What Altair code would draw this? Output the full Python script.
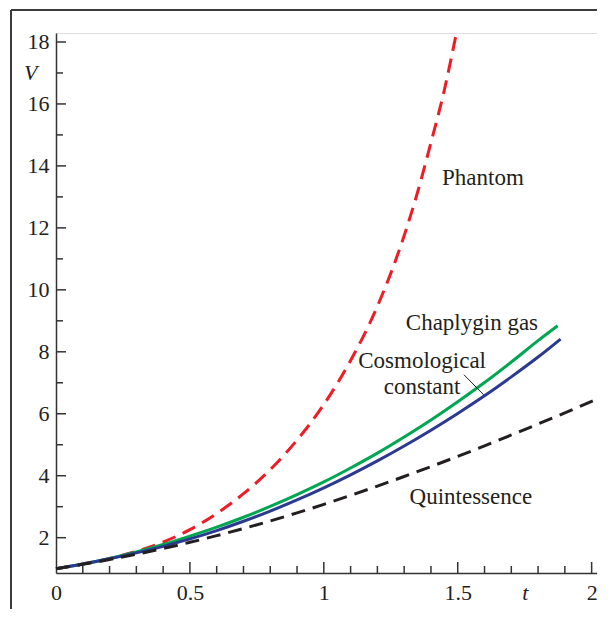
import altair as alt
import pandas as pd

# ---- data ----
t_cosmo = [0.0, 0.1, 0.2, 0.3, 0.4, 0.5, 0.6, 0.7, 0.8, 0.9, 1.0, 1.1, 1.2, 1.3, 1.4, 1.5, 1.6, 1.7, 1.8, 1.884]
v_cosmo = [1.00, 1.15, 1.32, 1.51, 1.72, 1.96, 2.23, 2.53, 2.86, 3.22, 3.61, 4.03, 4.48, 4.96, 5.47, 6.01, 6.58, 7.19, 7.83, 8.41]

t_chap = [0.0, 0.1, 0.2, 0.3, 0.4, 0.5, 0.6, 0.7, 0.8, 0.9, 1.0, 1.1, 1.2, 1.3, 1.4, 1.5, 1.6, 1.7, 1.8, 1.873]
v_chap = [1.00, 1.15, 1.33, 1.54, 1.78, 2.05, 2.34, 2.66, 3.01, 3.39, 3.80, 4.25, 4.73, 5.25, 5.80, 6.39, 7.01, 7.67, 8.36, 8.84]

t_quin = [0.0, 0.1, 0.2, 0.3, 0.4, 0.5, 0.6, 0.7, 0.8, 0.9, 1.0, 1.1, 1.2, 1.3, 1.4, 1.5, 1.6, 1.7, 1.8, 1.9, 2.02]
v_quin = [1.00, 1.14, 1.295, 1.465, 1.65, 1.85, 2.065, 2.295, 2.54, 2.80, 3.075, 3.365, 3.665, 3.975, 4.295, 4.625, 4.965, 5.315, 5.67, 6.03, 6.47]

t_phan = [0.0, 0.1, 0.2, 0.3, 0.4, 0.5, 0.6, 0.7, 0.8, 0.9, 1.0, 1.1, 1.2, 1.3, 1.35, 1.4, 1.45, 1.495]
v_phan = [1.00, 1.15, 1.33, 1.56, 1.86, 2.26, 2.78, 3.42, 4.20, 5.15, 6.30, 7.72, 9.47, 11.75, 13.15, 14.75, 16.45, 18.29]

x_major = [0.5, 1.0, 1.5, 2.0]
x_minor = [0.1, 0.2, 0.3, 0.4, 0.6, 0.7, 0.8, 0.9, 1.1, 1.2, 1.3, 1.4, 1.6, 1.7, 1.8, 1.9]
y_major = [2, 4, 6, 8, 10, 12, 14, 16, 18]
y_minor = [3, 5, 7, 9, 11, 13, 15, 17]

x_labels = [0, 0.5, 1, 1.5, 1.75, 2]
y_labels = [2, 4, 6, 8, 10, 12, 14, 16, 18, 17]

ann_text = ["Phantom", "Chaplygin gas", "Cosmological", "constant", "Quintessence"]
ann_t = [1.594, 1.553, 1.367, 1.367, 1.549]
ann_v = [13.6, 8.94, 7.71, 6.87, 3.32]

lead_t, lead_v, lead_t2, lead_v2 = [1.523], [7.26], [1.597], [6.61]

W, H = 541, 540
FONT = "Liberation Serif"
AX = "#333333"

xscale = alt.Scale(domain=[0, 2.02], nice=False, zero=False)
yscale = alt.Scale(domain=[0.86, 18.29], nice=False, zero=False)

xaxis = alt.Axis(
    values=x_labels,
    labelExpr="datum.value == 1.75 ? 't' : format(datum.value, '~g')",
    title=None, ticks=False, tickSize=0, grid=False, domain=True,
    domainColor=AX, domainWidth=1.5,
    labelFont=FONT, labelFontSize=22, labelColor="#222222", labelPadding=9,
    labelFontStyle={"condition": {"test": "datum.value == 1.75", "value": "italic"}, "value": "normal"},
    labelFlush=False, labelOverlap=False, labelBound=False,
)
yaxis = alt.Axis(
    values=y_labels,
    labelExpr="datum.value == 17 ? 'V' : format(datum.value, 'd')",
    title=None, ticks=False, tickSize=0, grid=False, domain=True,
    domainColor=AX, domainWidth=1.5,
    labelFont=FONT, labelFontSize=22, labelColor="#222222",
    labelPadding={"condition": {"test": "datum.value == 17", "value": 19}, "value": 7},
    labelFontStyle={"condition": {"test": "datum.value == 17", "value": "italic"}, "value": "normal"},
    labelFlush=False, labelOverlap=False, labelBound=False,
)

X = alt.X("t:Q", scale=xscale, axis=xaxis)
Y = alt.Y("V:Q", scale=yscale, axis=yaxis)


def line(ts, vs, color, dash=None):
    df = pd.DataFrame({"t": ts, "V": vs})
    kw = dict(color=color, strokeWidth=3, interpolate="monotone")
    if dash:
        kw["strokeDash"] = dash
    return alt.Chart(df).mark_line(**kw).encode(x=X, y=Y)


phantom = line(t_phan, v_phan, "#ee1c25", [14, 8])
chap = line(t_chap, v_chap, "#00a651")
cosmo = line(t_cosmo, v_cosmo, "#2b3990")
quin = line(t_quin, v_quin, "#231f20", [14, 8])

xmaj = alt.Chart(pd.DataFrame({"t": x_major})).mark_rule(color=AX, strokeWidth=1.5).encode(
    x=X, y=alt.value(H), y2=alt.value(H - 11))
xmin = alt.Chart(pd.DataFrame({"t": x_minor})).mark_rule(color=AX, strokeWidth=1.5).encode(
    x=X, y=alt.value(H), y2=alt.value(H - 7))
ymaj = alt.Chart(pd.DataFrame({"V": y_major})).mark_rule(color=AX, strokeWidth=1.5).encode(
    y=Y, x=alt.value(0), x2=alt.value(10))
ymin = alt.Chart(pd.DataFrame({"V": y_minor})).mark_rule(color=AX, strokeWidth=1.5).encode(
    y=Y, x=alt.value(0), x2=alt.value(7))

texts = alt.Chart(pd.DataFrame({"t": ann_t, "V": ann_v, "label": ann_text})).mark_text(
    font=FONT, fontSize=23, color="#231f20", align="center", baseline="middle"
).encode(x=X, y=Y, text="label:N")

lead = alt.Chart(pd.DataFrame({"t": lead_t, "V": lead_v, "t2": lead_t2, "V2": lead_v2})).mark_rule(
    color="#231f20", strokeWidth=1
).encode(x=X, y=Y, x2="t2:Q", y2="V2:Q")

# decorative frame (left and top edges of the figure box)
frame_left = alt.Chart(pd.DataFrame({"a": [0]})).mark_rule(color="#3c3c3c", strokeWidth=2).encode(
    x=alt.value(-45), y=alt.value(-23), y2=alt.value(H + 40))
frame_top = alt.Chart(pd.DataFrame({"a": [0]})).mark_rule(color="#3c3c3c", strokeWidth=2).encode(
    x=alt.value(-45), x2=alt.value(W), y=alt.value(-23))

chart = alt.layer(
    frame_left, frame_top, xmaj, xmin, ymaj, ymin,
    phantom, chap, cosmo, quin, lead, texts
).properties(
    width=W, height=H,
    autosize="none",
    padding={"left": 48, "top": 25, "right": 0, "bottom": 36},
).configure_view(stroke=None).configure(background="white")

chart.save("out.html", embed_options={"renderer": "svg", "actions": False})
